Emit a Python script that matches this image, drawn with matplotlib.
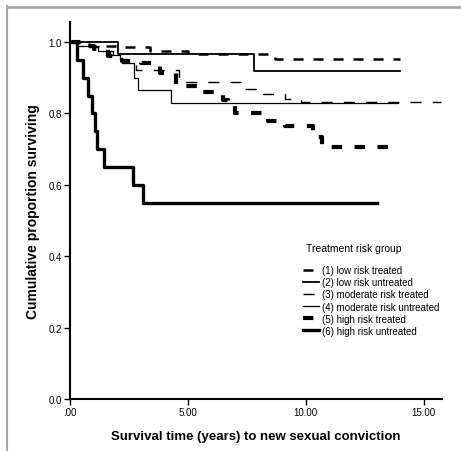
import numpy as np
import matplotlib.pyplot as plt
from matplotlib.lines import Line2D

plt.rcParams['font.family'] = ['Liberation Sans', 'DejaVu Sans']

# survival curves (time in years, cumulative proportion)
t1 = [0, 0.8, 2.3, 3.4, 5.0, 8.7, 14.0]
s1 = [1.0, 0.99, 0.985, 0.976, 0.966, 0.953, 0.953]

t2 = [0, 2.05, 7.8, 14.0]
s2 = [1.0, 0.966, 0.92, 0.92]

t3 = [0, 0.6, 1.3, 1.8, 2.2, 2.8, 4.6, 7.3, 8.2, 9.1, 9.8, 15.75]
s3 = [1.0, 0.99, 0.975, 0.955, 0.94, 0.922, 0.888, 0.868, 0.854, 0.84, 0.832, 0.832]

t4 = [0, 0.3, 0.8, 1.2, 1.7, 2.1, 2.4, 2.7, 2.9, 4.3, 13.9]
s4 = [1.0, 0.99, 0.985, 0.975, 0.965, 0.953, 0.94, 0.90, 0.866, 0.83, 0.83]

t5 = [0, 0.5, 1.0, 1.6, 2.2, 3.0, 3.8, 4.5, 5.4, 6.5, 6.7, 7.0, 8.4, 9.1, 10.3, 10.7, 13.6]
s5 = [1.0, 0.99, 0.98, 0.962, 0.947, 0.94, 0.914, 0.876, 0.86, 0.838, 0.82, 0.80,
      0.78, 0.765, 0.733, 0.705, 0.705]

t6 = [0, 0.3, 0.55, 0.75, 0.92, 1.05, 1.15, 1.42, 2.67, 3.09, 13.0]
s6 = [1.0, 0.95, 0.90, 0.85, 0.80, 0.75, 0.70, 0.65, 0.60, 0.55, 0.55]

labels = ['(1) low risk treated', '(2) low risk untreated', '(3) moderate risk treated',
          '(4) moderate risk untreated', '(5) high risk treated', '(6) high risk untreated']

xticks = [0, 5, 10, 15]
xticklabels = ['.00', '5.00', '10.00', '15.00']
yticks = [0.0, 0.2, 0.4, 0.6, 0.8, 1.0]

fig = plt.figure(figsize=(4.61, 4.52), dpi=100)
ax = fig.add_axes([0.152, 0.115, 0.807, 0.834])

styles = [
    dict(color='black', lw=1.8, linestyle=(0, (4, 4))),
    dict(color='black', lw=1.3, linestyle='-'),
    dict(color='black', lw=1.0, linestyle=(0, (8, 8))),
    dict(color='black', lw=0.9, linestyle='-'),
    dict(color='black', lw=3.0, linestyle=(0, (2.5, 3))),
    dict(color='black', lw=2.4, linestyle='-'),
]

curves = [(t1, s1), (t2, s2), (t3, s3), (t4, s4), (t5, s5), (t6, s6)]
for (t, s), st, lab in zip(curves, styles, labels):
    ax.step(t, s, where='post', label=lab, **st)

ax.set_xlim(0, 15.78)
ax.set_ylim(0, 1.056)
ax.set_xticks(xticks)
ax.set_xticklabels(xticklabels)
ax.set_yticks(yticks)
ax.set_yticklabels(['%.1f' % v for v in yticks])
ax.tick_params(direction='out', length=4, width=1, labelsize=7, pad=2)

for side in ['top', 'right']:
    ax.spines[side].set_visible(False)
for side in ['left', 'bottom']:
    ax.spines[side].set_linewidth(1.5)

ax.set_xlabel('Survival time (years) to new sexual conviction', fontsize=9.5,
              fontweight='bold', labelpad=9)
ax.set_ylabel('Cumulative proportion surviving', fontsize=10, fontweight='bold',
              labelpad=6)

leg = ax.legend(title='Treatment risk group', loc='upper left',
                bbox_to_anchor=(0.615, 0.425), frameon=False, fontsize=7,
                title_fontsize=7.5, handlelength=1.7, handletextpad=0.25,
                labelspacing=0.22, borderaxespad=0)
leg._legend_box.align = 'left'
leg._legend_box.sep = 9
leg.get_title().set_position((3, 0))

# page frame lines
fig.add_artist(Line2D([0.015, 0.015], [0, 0.985], color='#aaaaaa', lw=1.5,
                      transform=fig.transFigure))
fig.add_artist(Line2D([0.015, 1.0], [0.982, 0.982], color='#aaaaaa', lw=2,
                      transform=fig.transFigure))

fig.savefig('out.png', dpi=100)
